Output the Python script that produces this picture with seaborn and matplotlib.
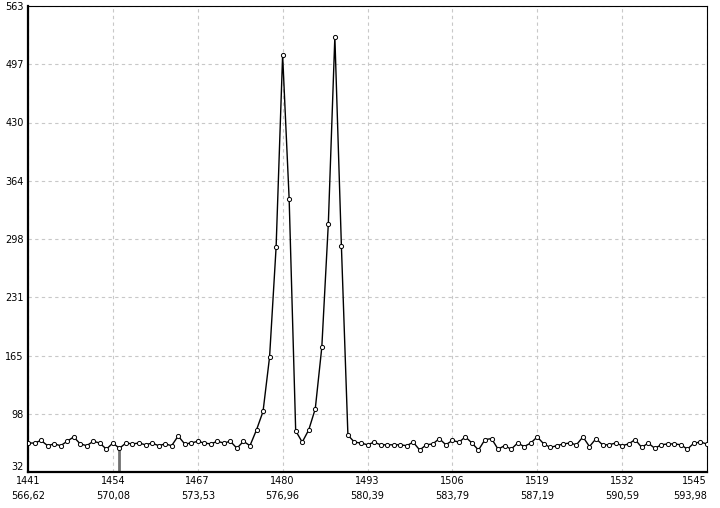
import numpy as np
import pandas as pd
import matplotlib
matplotlib.use("Agg")
import matplotlib.pyplot as plt
import seaborn as sns

# channel numbers 1441..1545 and counts
channels = list(range(1441, 1546))
counts = [
    65, 65, 68, 62, 64, 62, 67, 72, 64, 62,   # 1441-1450
    67, 65, 58, 65, 59, 65, 64, 65, 63, 65,   # 1451-1460
    62, 64, 62, 73, 64, 65, 67, 65, 64, 67,   # 1461-1470
    65, 67, 59, 67, 62, 80, 101, 163, 288, 507,  # 1471-1480
    343, 79, 66, 80, 104, 174, 315, 528, 290, 74,  # 1481-1490
    66, 65, 63, 66, 63, 63, 63, 63, 62, 66,   # 1491-1500
    57, 63, 64, 70, 63, 68, 66, 72, 65, 57,   # 1501-1510
    69, 70, 58, 62, 58, 65, 61, 65, 72, 64,   # 1511-1520
    60, 62, 64, 65, 63, 72, 61, 70, 63, 63,   # 1521-1530
    65, 62, 64, 69, 60, 65, 59, 63, 64, 64,   # 1531-1540
    63, 58, 65, 66, 64,                       # 1541-1545
]

x_ticks = [1441, 1454, 1467, 1480, 1493, 1506, 1519, 1532, 1545]
wavelengths = ["566,62", "570,08", "573,53", "576,96", "580,39",
               "583,79", "587,19", "590,59", "593,98"]
y_ticks = [32, 98.4, 164.75, 231.1, 297.5, 363.9, 430.25, 496.6, 563]
y_labels = ["32", "98", "165", "231", "298", "364", "430", "497", "563"]
cursor_x = 1455

df = pd.DataFrame({"channel": channels, "count": counts})

sns.set_style("white")
plt.rcParams["font.family"] = ["DejaVu Sans"]

fig = plt.figure(figsize=(7.2, 5.08), dpi=100)
ax = fig.add_axes([28 / 720, 36 / 508, 679 / 720, 466 / 508])

# cursor marker
cursor_val = counts[channels.index(cursor_x)]
ax.vlines(cursor_x, 32, cursor_val, color="#707070", lw=2, zorder=2)

sns.lineplot(data=df, x="channel", y="count", ax=ax, color="black", lw=1,
             marker="o", markersize=3, markerfacecolor="white",
             markeredgecolor="black", markeredgewidth=0.7, zorder=3)

ax.set_xlim(1441, 1545)
ax.set_ylim(32, 563)
ax.set_xticks(x_ticks)
ax.set_xticklabels([f"{c}\n{w}" for c, w in zip(x_ticks, wavelengths)],
                   fontsize=7, linespacing=1.6)
ax.set_yticks(y_ticks)
ax.set_yticklabels(y_labels, fontsize=7)
ax.tick_params(axis="both", length=0, pad=3, labelcolor="black")
ax.set_xlabel("")
ax.set_ylabel("")

# edge labels nudged inside like the original
ax.get_yticklabels()[0].set_verticalalignment("bottom")
ax.get_xticklabels()[-1].set_horizontalalignment("right")

ax.grid(True, color="#c8c8c8", linestyle=(0, (3, 3)), lw=0.8)

for side in ["left", "bottom"]:
    ax.spines[side].set_color("black")
    ax.spines[side].set_linewidth(1.6)
for side in ["top", "right"]:
    ax.spines[side].set_color("black")
    ax.spines[side].set_linewidth(0.8)

fig.savefig("out.png", dpi=100)
